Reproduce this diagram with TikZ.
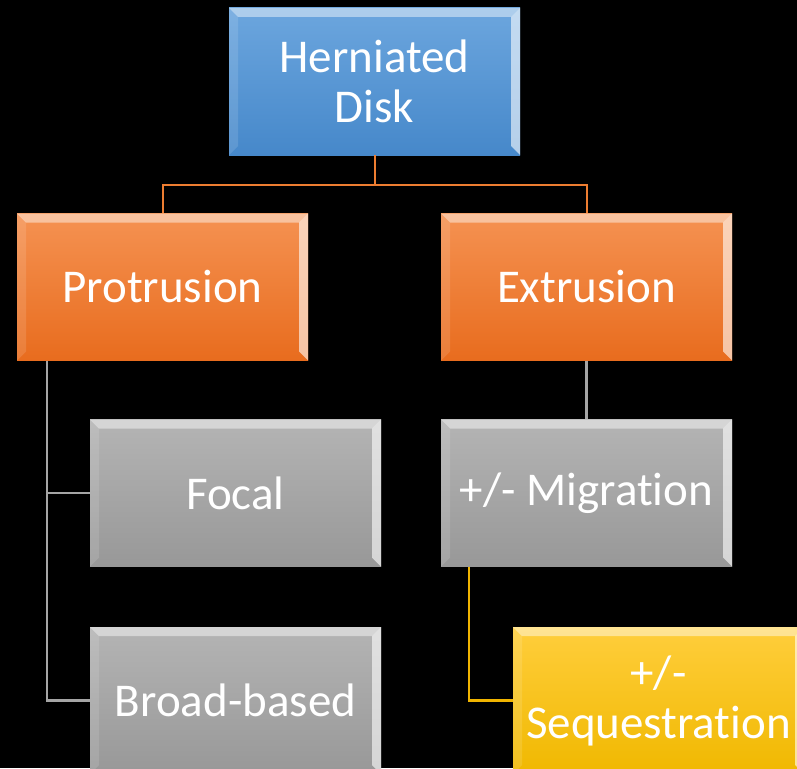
\documentclass[tikz,border=0pt]{standalone}
\usepackage{fontspec}
\setmainfont{Carlito}[Ligatures=NoCommon]
\begin{document}
\begin{tikzpicture}[x=1pt,y=1pt,
  bevelled/.style={path picture={
    \coordinate (nw) at (path picture bounding box.north west);
    \coordinate (ne) at (path picture bounding box.north east);
    \coordinate (sw) at (path picture bounding box.south west);
    \coordinate (se) at (path picture bounding box.south east);
    \fill[white,opacity=.45] (nw) -- (ne) -- ([shift={(-9,-9)}]ne) -- ([shift={(9,-9)}]nw) -- cycle;
    \fill[white,opacity=.6] (ne) -- (se) -- ([shift={(-9,9)}]se) -- ([shift={(-9,-9)}]ne) -- cycle;
    \fill[white,opacity=.12] (nw) -- (sw) -- ([shift={(9,9)}]sw) -- ([shift={(9,-9)}]nw) -- cycle;
  }},
  box/.style={bevelled, minimum width=291pt, minimum height=147pt, inner sep=0pt,
    text=white, align=center, font=\fontsize{47}{50}\selectfont},
  bluebox/.style={box, top color=blueTop, bottom color=blueBot},
  orangebox/.style={box, top color=orangeTop, bottom color=orangeBot},
  graybox/.style={box, top color=grayTop, bottom color=grayBot},
  goldbox/.style={box, top color=goldTop, bottom color=goldBot},
  link/.style={line width=2.5pt}
]
\definecolor{blueTop}{RGB}{108,166,222}
\definecolor{blueBot}{RGB}{70,136,202}
\definecolor{orangeTop}{RGB}{245,146,82}
\definecolor{orangeBot}{RGB}{232,108,30}
\definecolor{grayTop}{RGB}{180,180,180}
\definecolor{grayBot}{RGB}{152,152,152}
\definecolor{goldTop}{RGB}{255,206,60}
\definecolor{goldBot}{RGB}{240,184,0}
\definecolor{orangeLine}{RGB}{237,125,49}
\definecolor{grayLine}{RGB}{165,165,165}
\definecolor{goldLine}{RGB}{240,180,0}

\useasboundingbox (0,0) rectangle (797,-768);
\clip (0,0) rectangle (797,-768);
\fill[black] (0,0) rectangle (797,-768);

% boxes
\node[bluebox]   (hd)  at (374.5,-81.5)  {Herniated\\Disk};
\node[orangebox] (pro) at (162.5,-287)   {Protrusion};
\node[orangebox] (ext) at (586.5,-287)   {Extrusion};
\node[graybox]   (foc) at (235.5,-493)   {Focal};
\node[graybox]   (mig) at (586.5,-493)   {+/- Migration};
\node[graybox]   (brd) at (235.5,-700.5) {Broad-based};
\node[goldbox]   (seq) at (658.5,-700.5) {+/-\\Sequestration};

% connectors
\draw[orangeLine, line width=2pt] (hd.south) -- ++(0,-29.5) -| (pro.north);
\draw[orangeLine, line width=2pt] (hd.south) -- ++(0,-29.5) -| (ext.north);
\draw[link, grayLine] ([xshift=30pt]pro.south west) |- (foc.west);
\draw[link, grayLine] ([xshift=30pt]pro.south west) |- (brd.west);
\draw[grayLine, line width=3pt] (ext.south) -- (mig.north);
\draw[link, goldLine] ([xshift=28pt]mig.south west) |- (seq.west);
\end{tikzpicture}
\end{document}
